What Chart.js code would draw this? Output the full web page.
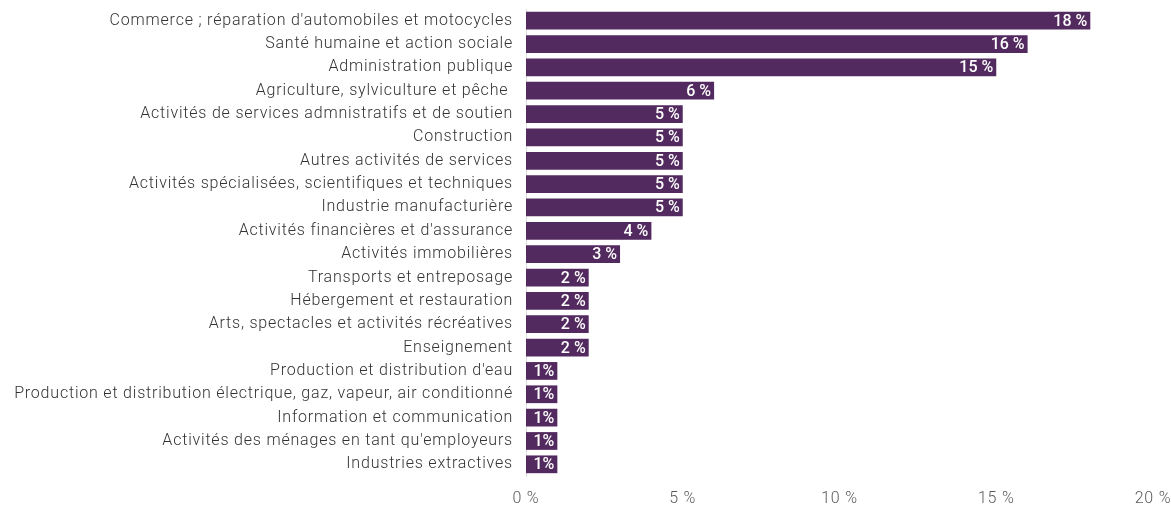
<!DOCTYPE html>
<html>
<head>
<meta charset="utf-8">
<script src="https://cdn.jsdelivr.net/npm/chart.js@4"></script>
<style>
  html, body { margin: 0; padding: 0; background: #fff; }
  #wrap { width: 1171px; height: 510px; position: relative; }
</style>
</head>
<body>
<div id="wrap"><canvas id="chart"></canvas></div>
<script>
const categories = [
  'Commerce ; réparation d\'automobiles et motocycles',
  'Santé humaine et action sociale',
  'Administration publique',
  'Agriculture, sylviculture et pêche ',
  'Activités de services admnistratifs et de soutien',
  'Construction',
  'Autres activités de services',
  'Activités spécialisées, scientifiques et techniques',
  'Industrie manufacturière',
  'Activités financières et d\'assurance',
  'Activités immobilières',
  'Transports et entreposage',
  'Hébergement et restauration',
  'Arts, spectacles et activités récréatives',
  'Enseignement',
  'Production et distribution d\'eau',
  'Production et distribution électrique, gaz, vapeur, air conditionné',
  'Information et communication',
  'Activités des ménages en tant qu\'employeurs',
  'Industries extractives'
];
const shares = [18, 16, 15, 6, 5, 5, 5, 5, 5, 4, 3, 2, 2, 2, 2, 1, 1, 1, 1, 1];
const valueLabels = ['18 %', '16 %', '15 %', '6 %', '5 %', '5 %', '5 %', '5 %', '5 %', '4 %',
  '3 %', '2 %', '2 %', '2 %', '2 %', '1%', '1%', '1%', '1%', '1%'];
const xTicks = [0, 5, 10, 15, 20];

// wider letter spacing, closer to the original typeface
const spacing = {
  id: 'spacing',
  beforeDraw(chart) { chart.ctx.letterSpacing = '0.8px'; },
  afterDraw(chart) { chart.ctx.letterSpacing = '0px'; }
};

const barLabels = {
  id: 'barLabels',
  afterDatasetsDraw(chart) {
    const ctx = chart.ctx;
    const meta = chart.getDatasetMeta(0);
    ctx.save();
    ctx.letterSpacing = '0px';
    ctx.fillStyle = '#ffffff';
    ctx.font = '500 16px Roboto';
    ctx.textAlign = 'right';
    ctx.textBaseline = 'middle';
    meta.data.forEach((bar, i) => {
      ctx.fillText(valueLabels[i], bar.x - 3, bar.y + 1);
    });
    ctx.restore();
  }
};

new Chart(document.getElementById('chart'), {
  type: 'bar',
  data: {
    labels: categories,
    datasets: [{
      data: shares,
      backgroundColor: '#532a5f',
      borderWidth: 0,
      barPercentage: 0.76,
      categoryPercentage: 1
    }]
  },
  options: {
    indexAxis: 'y',
    responsive: true,
    maintainAspectRatio: false,
    animation: false,
    layout: { padding: { top: 9, right: 18, bottom: 0, left: 0 } },
    plugins: {
      legend: { display: false },
      tooltip: { enabled: false }
    },
    scales: {
      x: {
        min: 0,
        max: 20,
        afterBuildTicks(axis) { axis.ticks = xTicks.map(v => ({ value: v })); },
        afterFit(axis) {
          axis.height = 34;
          axis.paddingLeft = 0;
          axis.paddingRight = 0;
        },
        grid: { display: false, drawTicks: false },
        border: { display: false },
        ticks: {
          color: '#5a5a5a',
          font: { family: 'Roboto', size: 16, weight: '300' },
          padding: 13,
          maxRotation: 0,
          callback: v => v + ' %'
        }
      },
      y: {
        grid: { display: false, drawTicks: false },
        border: { display: true, color: '#ddd', width: 1 },
        afterFit(axis) {
          axis.width = 526;
          axis.paddingTop = 0;
          axis.paddingBottom = 0;
        },
        ticks: {
          color: '#333',
          font: { family: 'Roboto', size: 16, weight: '300' },
          padding: 13,
          autoSkip: false
        }
      }
    }
  },
  plugins: [spacing, barLabels]
});
</script>
</body>
</html>
